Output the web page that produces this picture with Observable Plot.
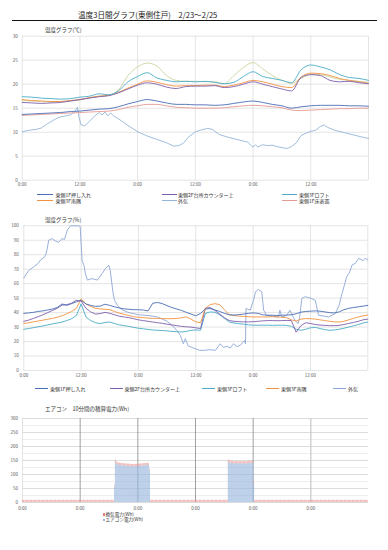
<!DOCTYPE html>
<html><head><meta charset="utf-8">
<script src="https://cdn.jsdelivr.net/npm/d3@7"></script>
<script src="https://cdn.jsdelivr.net/npm/@observablehq/plot@0.6"></script>
<style>
html,body{margin:0;padding:0;background:#fff;}
#page{position:relative;width:388px;height:550px;overflow:hidden;background:#fff;font-family:"Noto Sans CJK JP","Noto Sans",sans-serif;}
.abs{position:absolute;white-space:nowrap;line-height:1.2;}
</style></head><body><div id="page"></div>
<script>
// ---------------- DATA ----------------
const chartTitle = "温度3日間グラフ(東側住戸)　2/23～2/25";
const tempTitle = "温度グラフ(℃)";
const humTitle = "湿度グラフ(%)";
const powerTitle = "エアコン　10分間の積算電力(Wh)";

const xTickHours = [0, 12, 24, 36, 48, 60];
const xTickLabels = ["0:00", "12:00", "0:00", "12:00", "0:00", "12:00"];
const powerTickLabels = ["0:00", "0:00", "0:00", "0:00", "0:00", "0:00"];
const xGridHours = [0, 12, 24, 36, 48, 60, 72];

const tempTicks = [0, 5, 10, 15, 20, 25, 30];
const humTicks = [0, 10, 20, 30, 40, 50, 60, 70, 80, 90, 100];
const powerTicks = [0, 50, 100, 150, 200, 250, 300];
const powerGrid = [0, 25, 50, 75, 100, 125, 150, 175, 200, 225, 250, 275, 300];

const seriesNames = ["東側1F押し入れ", "東側2F台所カウンター上", "東側3Fロフト", "東側3F南隅", "外気", "東側1F床表面"];

// temperature, every 2 hours (0..72)
const tempHours = [0,2,4,6,8,10,12,14,16,18,20,22,24,26,28,30,32,34,36,38,40,42,44,46,48,50,52,54,56,58,60,62,64,66,68,70,72];
const tempOshiire = [13.7,13.8,13.9,14.0,14.1,14.3,14.4,14.6,14.8,14.9,15.3,15.9,16.4,16.8,16.5,16.1,15.8,15.8,15.7,15.7,15.6,15.7,16.0,16.3,16.5,16.2,15.8,15.5,15.0,15.3,15.5,15.6,15.6,15.6,15.5,15.5,15.4];
const tempKitchen = [16.2,16.1,16.0,16.1,16.2,16.5,16.8,17.1,17.4,17.6,18.2,19.0,19.8,20.3,20.0,19.4,19.1,19.5,19.6,19.6,19.7,19.3,19.5,20.0,20.5,20.0,19.5,19.0,18.6,21.4,22.0,21.8,20.8,20.5,20.6,20.3,20.1];
const tempLoft = [17.4,17.3,17.1,17.0,16.9,17.0,17.3,17.5,18.0,17.8,18.6,20.5,21.6,22.4,21.3,20.8,20.5,20.6,20.5,20.6,20.4,20.1,20.4,21.6,22.6,21.6,21.2,20.8,20.3,23.0,24.0,23.6,23.0,22.0,21.4,21.2,20.8];
const tempSouth = [16.8,16.6,16.5,16.4,16.4,16.6,16.8,17.2,17.5,17.7,18.3,19.2,20.0,20.7,20.4,19.9,19.6,19.7,19.7,19.8,19.8,19.5,19.8,20.3,20.8,20.5,20.0,19.5,19.3,21.5,22.3,22.2,21.8,21.2,20.8,20.5,20.2];
const tempFloor = [13.5,13.6,13.7,13.8,13.9,14.0,14.1,14.2,14.3,14.4,14.7,15.2,15.5,15.8,15.8,15.5,15.2,15.1,15.0,15.0,15.0,15.1,15.3,15.5,15.6,15.5,15.3,15.1,14.6,14.5,14.6,14.7,14.8,14.9,14.9,15.0,15.0];
const tempExtra = [16.6,16.5,16.4,16.3,16.4,16.5,16.7,17.2,17.5,17.7,18.8,21.8,23.6,24.4,23.8,21.8,20.8,20.6,20.6,20.5,20.5,20.1,21.8,23.5,24.5,23.2,21.8,20.8,20.2,21.2,22.0,22.0,21.5,21.0,20.8,20.6,20.4];
// outside temperature (irregular sample times, hours)
const outTempHours = [0,1,2,3,4,5,6,7,8,9,10,11,11.5,11.8,12.2,13,14,15,16,16.6,17.2,17.8,18.4,19,20,22,24,26,28,30,31.5,32.5,33.5,34.5,36,37,38.5,39.5,41,43,45,47,47.6,48,48.5,49,50,51,52,53,54,55,56,57,58,59,60,61,62,62.8,63.5,65,67,69,71,72];
const outTemp = [10.1,10.3,10.5,10.6,10.9,11.6,12.2,12.8,13.2,13.4,13.6,14.3,15.2,13.2,11.6,11.3,12.3,13.3,14.1,13.6,14.2,13.4,14.0,13.4,12.8,11.4,10.1,9.2,8.5,7.8,7.1,7.2,7.7,8.9,10.1,10.4,10.8,10.6,9.5,8.9,8.4,7.9,7.2,6.9,7.4,6.9,7.4,7.2,7.3,7.0,6.8,6.6,7.0,7.8,9.3,9.8,10.2,10.4,11.2,11.5,11.0,10.4,9.9,9.4,8.9,8.7];

// humidity, hourly (0..72)
const humHours = [0,1,2,3,4,5,6,7,8,9,10,11,12,13,14,15,16,17,18,19,20,21,22,23,24,25,26,27,28,29,30,31,32,33,34,35,36,37,38,39,40,41,42,43,44,45,46,47,48,49,50,51,52,53,54,55,56,57,58,59,60,61,62,63,64,65,66,67,68,69,70,71,72];
const humOshiire = [39.5,39.8,40.2,40.8,41.2,41.8,42.5,43.5,46.0,45.0, 46.2,47.5,48.5,46.0,45.0,44.3,44.5,45.8,45.0,44.0, 43.2,42.6,42.3,42.0,42.0,41.8,41.2,46.5,47.0,46.2, 44.8,43.5,42.5,41.5,40.2,39.0,37.8,39.5,42.5,42.8, 41.8,40.8,39.5,38.5,38.3,38.6,39.0,39.5,39.8,39.5, 38.5,38.2,38.2,38.0,38.2,38.3,38.5,39.2,40.3,40.8, 41.0,41.2,41.0,40.5,40.0,39.8,40.5,42.0,43.0,43.5, 44.0,44.5,45.0];
const humKitchen = [34.0,34.8,36.0,37.2,38.5,40.0,41.5,43.0,45.2,45.5, 46.5,48.5,48.0,43.0,40.5,39.0,39.3,40.2,39.5,38.5, 37.5,37.0,36.5,35.8,35.0,34.5,34.0,33.5,33.0,32.6, 32.0,31.5,31.0,30.5,30.2,30.0,29.5,29.0,43.0,43.5, 41.5,39.0,36.5,34.5,34.0,33.8,33.6,33.6,33.7,34.0, 34.3,34.5,34.5,34.4,34.5,34.6,34.5,26.5,31.0,33.0, 32.5,31.8,31.4,31.2,31.0,31.0,31.2,31.8,32.5,33.2, 34.0,35.0,35.5];
const humLoft = [28.5,29.0,29.6,30.2,30.8,31.5,32.2,32.8,33.5,34.5, 35.8,38.0,46.0,37.0,34.5,33.0,32.4,33.2,33.5,32.5, 31.5,31.0,30.5,29.8,29.2,28.8,28.4,28.0,27.8,27.6, 27.4,27.0,26.8,26.6,27.0,27.8,28.0,27.8,39.5,40.5, 40.2,38.5,36.0,33.6,32.8,32.4,32.0,31.6,31.3,31.3, 31.3,31.3,31.2,31.3,31.3,31.2,30.5,28.5,27.8,28.5, 29.5,29.8,29.0,28.2,27.8,28.0,28.5,29.2,30.0,30.8, 31.8,32.8,33.5];
const humSouth = [32.5,33.0,33.6,34.2,34.8,35.4,36.0,36.8,37.8,39.2, 40.8,43.0,49.5,46.0,44.2,43.0,42.5,42.3,42.0,40.8, 39.6,38.8,38.0,37.2,36.8,36.5,36.2,36.0,36.0,35.9, 35.8,35.8,36.0,36.4,37.0,35.5,33.6,33.0,43.0,45.5, 46.2,45.5,42.0,38.5,38.0,37.6,37.4,37.2,37.0,37.0, 37.0,37.0,37.2,37.0,36.8,36.5,35.0,34.2,35.5,35.9, 35.8,35.5,35.0,34.5,34.0,33.6,33.5,34.0,35.0,36.0, 37.0,37.8,38.3];
// outside humidity (irregular sample times, hours)
const outHumHours = [0,0.5,1,2,3,3.5,4.2,4.6,4.9,5.2,5.9,6.6,7.3,8,8.5,9.1,9.8,11.5,11.8,12.2,12.6,12.9,13.3,14.3,15.4,16.4,17.1,17.8,18.1,18.7,19,19.6,20.5,22,24,26,28,30,31.4,32.2,32.8,33.4,33.8,34.4,35.9,36.8,37.7,38.9,40.1,41.1,41.8,42.5,43.2,43.9,44.6,45.3,46.2,46.4,46.5,47.4,48.2,48.5,49.1,49.8,50.2,50.8,52,53.3,53.6,54,55,55.7,56.2,56.8,57.4,57.7,58.2,58.9,60,61,61.7,63,63.8,65.2,66,66.6,67.6,68.2,68.7,69.4,70.1,71,71.5,72];
const outHum = [64,66.5,69,71.5,74,76.5,78,80,84,90,91.2,89.5,88.5,91.2,90.5,97,100,100,99.5,76,72.5,67,62.5,63.5,62.5,67,70.5,72.8,69,53,48.5,45,42,40,38.5,38,37,34,30,27,24,18.5,22,17,15,14,13.9,14.4,13.9,18.5,16,16.7,15.5,18.5,16.5,17.4,20.8,18.5,42.8,41.7,50,54.4,56,54.5,41.7,38.2,37.5,37,41.7,37,38,41.7,38,34.7,32.4,36,49.8,51,50,48.6,38.2,37.5,37,39.4,45,53.2,64.8,68,72.9,74.1,77.5,76,77.5,76.4];

// power: 10-minute bins
const powerSeries = ["換気電力(Wh)", "エアコン電力(Wh)"];
const ventHourlyWh = [8,8,8,8,8,8,8,8,8,8,8,8,8,8,8,8,8,8,8,8,8,8,8,8,8,8,8,8,8,8,8,8,8,8,8,8,8,8,8,8,8,8,8,8,8,8,8,8,8,8,8,8,8,8,8,8,8,8,8,8,8,8,8,8,8,8,8,8,8,8,8,8];
const acBlock1StartMin = 1150;
const acBlock1 = [55,145,138,136,134,133,133,132,132,131,131,131,130,130,130,130,129,129,129,129,128,128,128,128,128,128,128,128,128,129,129,129,129,130,130,130,131,131,131,132,132,132,133,130,110];
const acBlock2StartMin = 2570;
const acBlock2 = [145,140,140,139,139,139,139,138,138,138,138,138,138,138,138,138,138,138,138,138,138,138,138,138,138,139,139,139,139,140,140,140,65];

// ---------------- STYLE ----------------
const FONT = '"Noto Sans CJK JP","Noto Sans",sans-serif';
const COL = {oshiire:"#4a6db6", kitchen:"#7e5fae", loft:"#4aabc6", south:"#f39240", outT:"#94b6d8", floor:"#e49a94", extra:"#c9d59c", outH:"#8ea7d6", ac:"#9bb8de", vent:"#e48080"};
const page = document.getElementById('page');

function text(s, x, y, size, color) {
  const d = document.createElement('div');
  d.className = 'abs';
  d.textContent = s;
  d.style.left = x + 'px';
  d.style.top = (y - size * 0.6) + 'px';
  d.style.fontSize = size + 'px';
  d.style.color = color || '#333';
  page.appendChild(d);
  return d;
}
function box(x, y, w, h, color) {
  const d = document.createElement('div');
  d.style.position = 'absolute';
  d.style.left = x + 'px'; d.style.top = y + 'px';
  d.style.width = w + 'px'; d.style.height = h + 'px';
  d.style.background = color;
  page.appendChild(d);
}
function legendLine(label, color, x, y, w, tx) {
  box(x, y - 0.6, w, 1.2, color);
  text(label, tx, y, 5, '#333');
}
function place(svg, top) {
  svg.style.position = 'absolute';
  svg.style.left = '0px';
  svg.style.top = top + 'px';
  page.appendChild(svg);
}
const fmt = (ticks, labels) => (h) => labels[ticks.indexOf(h)];

// ---------------- TITLE ----------------
text(chartTitle, 78, 14.5, 7.6, '#222');
box(12, 20, 365, 1.4, '#111');

// ---------------- TEMPERATURE ----------------
text(tempTitle, 45, 30, 5.5, '#333');
const tempLines = [
  {v: tempFloor, c: COL.floor},
  {v: tempOshiire, c: COL.oshiire},
  {v: tempExtra, c: COL.extra},
  {v: tempSouth, c: COL.south},
  {v: tempKitchen, c: COL.kitchen},
  {v: tempLoft, c: COL.loft}
];
const tempPlot = Plot.plot({
  width: 388, height: 162,
  marginLeft: 21.7, marginRight: 20, marginTop: 5.7, marginBottom: 12.3,
  style: {fontFamily: FONT, fontSize: "4.5px", color: "#595959", background: "transparent", overflow: "visible"},
  x: {domain: [0, 72], label: null},
  y: {domain: [0, 30], label: null},
  marks: [
    Plot.gridY(tempTicks, {stroke: "#d9d9d9", strokeOpacity: 1, strokeWidth: 0.7}),
    Plot.gridX(xGridHours, {stroke: "#d9d9d9", strokeOpacity: 1, strokeWidth: 0.7}),
    Plot.axisY(tempTicks, {tickSize: 0, tickPadding: 4.5, fontSize: 4.5, fill: "#595959", label: null}),
    Plot.axisX(xTickHours, {tickSize: 0, tickPadding: 3, fontSize: 4.5, fill: "#595959", label: null, tickFormat: fmt(xTickHours, xTickLabels)}),
    Plot.line(outTemp, {x: (d, i) => outTempHours[i], y: d => d, stroke: COL.outT, strokeWidth: 0.9}),
    ...tempLines.map(s => Plot.line(s.v, {x: (d, i) => tempHours[i], y: d => d, stroke: s.c, strokeWidth: 0.9, curve: "monotone-x"}))
  ]
});
place(tempPlot, 30);
legendLine(seriesNames[0], COL.oshiire, 37, 194.7, 16, 55.5);
legendLine(seriesNames[1], COL.kitchen, 162, 194.7, 15, 178);
legendLine(seriesNames[2], COL.loft, 282, 194.7, 15, 299);
legendLine(seriesNames[3], COL.south, 37, 200.7, 16, 55.5);
legendLine(seriesNames[4], COL.outT, 162, 200.7, 15, 178);
legendLine(seriesNames[5], COL.floor, 282, 200.7, 15, 299);

// ---------------- HUMIDITY ----------------
text(humTitle, 45, 220, 5.5, '#333');
const humLines = [
  {v: humLoft, c: COL.loft},
  {v: humKitchen, c: COL.kitchen},
  {v: humSouth, c: COL.south},
  {v: humOshiire, c: COL.oshiire}
];
const humPlot = Plot.plot({
  width: 388, height: 162,
  marginLeft: 23.3, marginRight: 20.7, marginTop: 5.3, marginBottom: 12,
  style: {fontFamily: FONT, fontSize: "4.5px", color: "#595959", background: "transparent", overflow: "visible"},
  x: {domain: [0, 72], label: null},
  y: {domain: [0, 100], label: null},
  marks: [
    Plot.gridY(humTicks, {stroke: "#d9d9d9", strokeOpacity: 1, strokeWidth: 0.7}),
    Plot.gridX(xGridHours, {stroke: "#d9d9d9", strokeOpacity: 1, strokeWidth: 0.7}),
    Plot.axisY(humTicks, {tickSize: 0, tickPadding: 5, fontSize: 4.5, fill: "#595959", label: null}),
    Plot.axisX(xTickHours, {tickSize: 0, tickPadding: 3, fontSize: 4.5, fill: "#595959", label: null, tickFormat: fmt(xTickHours, xTickLabels)}),
    Plot.line(outHum, {x: (d, i) => outHumHours[i], y: d => d, stroke: COL.outH, strokeWidth: 0.9}),
    ...humLines.map(s => Plot.line(s.v, {x: (d, i) => humHours[i], y: d => d, stroke: s.c, strokeWidth: 0.9}))
  ]
});
place(humPlot, 220);
legendLine(seriesNames[0], COL.oshiire, 35, 388.7, 13, 50);
legendLine(seriesNames[1], COL.kitchen, 110, 388.7, 13, 124.5);
legendLine(seriesNames[2], COL.loft, 202, 388.7, 13, 217);
legendLine(seriesNames[3], COL.south, 266, 388.7, 13, 281);
legendLine(seriesNames[4], COL.outH, 333, 388.7, 13, 348);

// ---------------- POWER ----------------
text(powerTitle, 45, 409.5, 5.5, '#333');
const bins = [];
for (let i = 0; i < ventHourlyWh.length * 6; i++) {
  const m = i * 10;
  let ac = 0;
  const j1 = (m - acBlock1StartMin) / 10, j2 = (m - acBlock2StartMin) / 10;
  if (j1 >= 0 && j1 < acBlock1.length) ac = acBlock1[j1];
  if (j2 >= 0 && j2 < acBlock2.length) ac = acBlock2[j2];
  bins.push({t: m / 60, ac, vent: ventHourlyWh[Math.floor(i / 6)]});
}
const powerPlot = Plot.plot({
  width: 388, height: 102,
  marginLeft: 22, marginRight: 20, marginTop: 6, marginBottom: 12,
  style: {fontFamily: FONT, fontSize: "4.5px", color: "#595959", background: "transparent", overflow: "visible"},
  x: {domain: [0, 72], label: null},
  y: {domain: [0, 300], label: null},
  marks: [
    Plot.gridY(powerGrid, {stroke: "#e3e3e3", strokeOpacity: 1, strokeWidth: 0.6}),
    Plot.gridY(powerTicks, {stroke: "#d4d4d4", strokeOpacity: 1, strokeWidth: 0.7}),
    Plot.gridX([0], {stroke: "#d9d9d9", strokeOpacity: 1, strokeWidth: 0.7}),
    Plot.gridX([12, 24, 36, 48], {stroke: "#8a8a8a", strokeOpacity: 1, strokeWidth: 0.8}),
    Plot.gridX([60], {stroke: "#c8c8c8", strokeOpacity: 1, strokeWidth: 1.2}),
    Plot.rectY(bins.filter(d => d.ac > 0), {x1: "t", x2: d => d.t + 1/6, y1: 0, y2: "ac", fill: COL.ac, insetRight: 0.2}),
    Plot.rectY(bins, {x1: "t", x2: d => d.t + 1/6, y1: "ac", y2: d => d.ac + d.vent, fill: COL.vent, insetRight: 0.4}),
    Plot.axisY(powerTicks, {tickSize: 0, tickPadding: 4.5, fontSize: 4.5, fill: "#595959", label: null}),
    Plot.axisX(xTickHours, {tickSize: 0, tickPadding: 4, fontSize: 4.5, fill: "#595959", label: null, tickFormat: fmt(xTickHours, powerTickLabels)})
  ]
});
place(powerPlot, 412);
box(102.5, 513.4, 2.2, 2.2, COL.vent);
text(powerSeries[0], 105.5, 514.5, 4.6, '#333');
box(102.5, 518.9, 2.2, 2.2, COL.ac);
text(powerSeries[1], 105.5, 520, 4.6, '#333');
</script></body></html>
